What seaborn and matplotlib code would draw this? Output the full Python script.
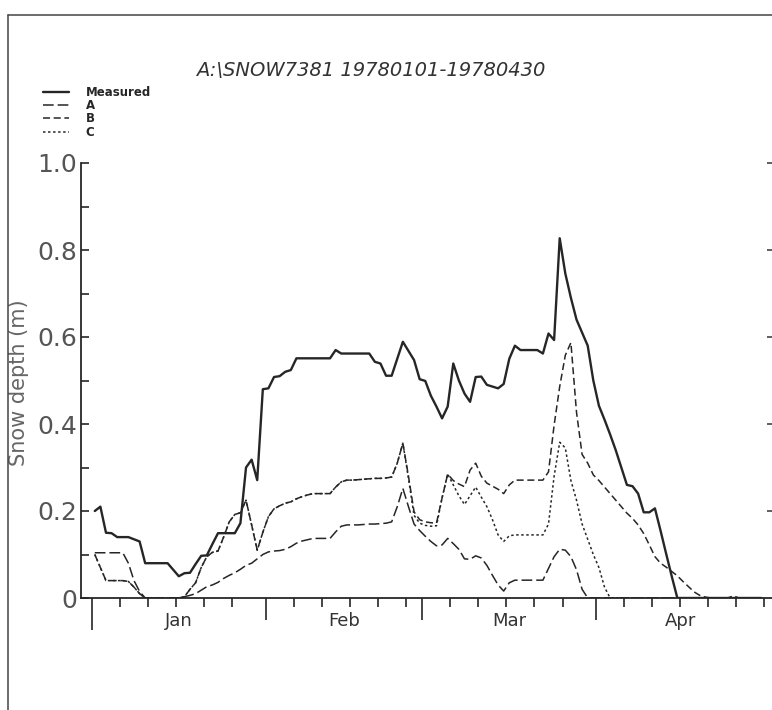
import numpy as np
import pandas as pd
import matplotlib
matplotlib.use("Agg")
import matplotlib.pyplot as plt
import matplotlib.dates as mdates
from matplotlib.lines import Line2D
import seaborn as sns

# ---- data -------------------------------------------------------------
title_text = "A:\\SNOW7381 19780101-19780430"
ylabel_text = "Snow depth (m)"
series_names = ["Measured", "A", "B", "C"]
month_labels = ["Jan", "Feb", "Mar", "Apr"]
y_tick_values = [0, 0.2, 0.4, 0.6, 0.8, 1.0]
y_tick_labels = ["0", "0.2", "0.4", "0.6", "0.8", "1.0"]

# daily snow depth (m), 1 Jan - 30 Apr 1978
measured = [
    0.20, 0.21, 0.15, 0.149, 0.14, 0.14, 0.14, 0.135, 0.13, 0.08,
    0.08, 0.08, 0.08, 0.08, 0.065, 0.05, 0.057, 0.058, 0.078, 0.097,
    0.098, 0.124, 0.149, 0.149, 0.149, 0.149, 0.172, 0.30, 0.318, 0.271,
    0.48, 0.482, 0.508, 0.51, 0.52, 0.524, 0.551, 0.551, 0.551, 0.551,
    0.551, 0.551, 0.551, 0.57, 0.562, 0.562, 0.562, 0.562, 0.562, 0.562,
    0.543, 0.539, 0.511, 0.511, 0.55, 0.589, 0.568, 0.547, 0.503, 0.499,
    0.465, 0.44, 0.413, 0.44, 0.539, 0.50, 0.47, 0.451, 0.508, 0.509,
    0.49, 0.486, 0.482, 0.492, 0.55, 0.58, 0.57, 0.57, 0.57, 0.57,
    0.562, 0.608, 0.593, 0.827, 0.746, 0.69, 0.64, 0.61, 0.58, 0.50,
    0.442, 0.41, 0.376, 0.34, 0.30, 0.26, 0.257, 0.24, 0.197, 0.197,
    0.206, 0.155, 0.102, 0.05, 0.0, 0.0, 0.0, 0.0, 0.0, 0.0,
    0.0, 0.0, 0.0, 0.0, 0.0, 0.0, 0.0, 0.0, 0.0, 0.0,
]
model_a = [
    0.104, 0.104, 0.104, 0.104, 0.104, 0.104, 0.08, 0.04, 0.015, 0.0,
    0.0, 0.0, 0.0, 0.0, 0.0, 0.0, 0.003, 0.006, 0.01, 0.018,
    0.026, 0.03, 0.036, 0.045, 0.052, 0.058, 0.066, 0.075, 0.08, 0.09,
    0.10, 0.106, 0.108, 0.109, 0.112, 0.118, 0.126, 0.131, 0.134, 0.137,
    0.137, 0.137, 0.137, 0.152, 0.165, 0.168, 0.168, 0.168, 0.169, 0.17,
    0.17, 0.171, 0.172, 0.175, 0.21, 0.252, 0.21, 0.17, 0.155, 0.142,
    0.13, 0.12, 0.122, 0.137, 0.125, 0.112, 0.09, 0.089, 0.097, 0.092,
    0.075, 0.052, 0.03, 0.016, 0.035, 0.041, 0.041, 0.041, 0.041, 0.041,
    0.041, 0.068, 0.095, 0.112, 0.11, 0.095, 0.065, 0.02, 0.0, 0.0,
    0.0, 0.0, 0.0, 0.0, 0.0, 0.0, 0.0, 0.0, 0.0, 0.0,
    0.0, 0.0, 0.0, 0.0, 0.0, 0.0, 0.0, 0.0, 0.0, 0.0,
    0.0, 0.0, 0.0, 0.0, 0.0, 0.0, 0.0, 0.0, 0.0, 0.0,
]
model_b = [
    0.10, 0.07, 0.04, 0.04, 0.04, 0.04, 0.038, 0.025, 0.01, 0.0,
    0.0, 0.0, 0.0, 0.0, 0.0, 0.0, 0.003, 0.02, 0.035, 0.07,
    0.095, 0.105, 0.108, 0.14, 0.175, 0.192, 0.196, 0.225, 0.168, 0.11,
    0.151, 0.187, 0.205, 0.212, 0.218, 0.221, 0.228, 0.233, 0.237, 0.24,
    0.24, 0.24, 0.24, 0.255, 0.267, 0.271, 0.271, 0.272, 0.273, 0.274,
    0.275, 0.275, 0.276, 0.278, 0.31, 0.356, 0.28, 0.198, 0.18, 0.175,
    0.173, 0.172, 0.23, 0.285, 0.27, 0.262, 0.256, 0.294, 0.31, 0.28,
    0.264, 0.257, 0.25, 0.24, 0.26, 0.271, 0.271, 0.271, 0.271, 0.271,
    0.271, 0.29, 0.397, 0.486, 0.558, 0.587, 0.427, 0.33, 0.31, 0.283,
    0.27, 0.255, 0.24, 0.225, 0.21, 0.195, 0.183, 0.168, 0.148, 0.122,
    0.095, 0.08, 0.071, 0.061, 0.051, 0.038, 0.026, 0.014, 0.006, 0.002,
    0.0, 0.0, 0.0, 0.0, 0.005, 0.0, 0.0, 0.0, 0.0, 0.0,
]
model_c = [
    0.10, 0.07, 0.04, 0.04, 0.04, 0.04, 0.038, 0.025, 0.01, 0.0,
    0.0, 0.0, 0.0, 0.0, 0.0, 0.0, 0.003, 0.02, 0.035, 0.07,
    0.095, 0.105, 0.108, 0.14, 0.175, 0.192, 0.196, 0.225, 0.168, 0.11,
    0.151, 0.187, 0.205, 0.212, 0.218, 0.221, 0.228, 0.233, 0.237, 0.24,
    0.24, 0.24, 0.24, 0.255, 0.267, 0.271, 0.271, 0.272, 0.273, 0.274,
    0.275, 0.275, 0.276, 0.278, 0.31, 0.356, 0.275, 0.19, 0.172, 0.167,
    0.165, 0.166, 0.23, 0.285, 0.26, 0.235, 0.215, 0.235, 0.255, 0.232,
    0.21, 0.18, 0.145, 0.13, 0.143, 0.145, 0.145, 0.145, 0.145, 0.145,
    0.145, 0.17, 0.28, 0.358, 0.345, 0.27, 0.225, 0.17, 0.135, 0.10,
    0.07, 0.025, 0.0, 0.0, 0.0, 0.0, 0.0, 0.0, 0.0, 0.0,
    0.0, 0.0, 0.0, 0.0, 0.0, 0.0, 0.0, 0.0, 0.0, 0.0,
    0.0, 0.0, 0.0, 0.0, 0.0, 0.0, 0.0, 0.0, 0.0, 0.0,
]

dates = pd.date_range("1978-01-01 12:00", periods=len(measured), freq="D")
frame = pd.DataFrame({"date": dates, "Measured": measured, "A": model_a,
                      "B": model_b, "C": model_c})
long = frame.melt(id_vars="date", var_name="series", value_name="depth")

# ---- styling ----------------------------------------------------------
sns.set_style("ticks")
plt.rcParams["font.family"] = ["DejaVu Sans"]

ink = "#262626"
line_styles = {
    "Measured": dict(linestyle="-", lw=1.7),
    "A": dict(linestyle=(0, (7.0, 2.6)), lw=1.1),
    "B": dict(linestyle=(0, (4.6, 2.4)), lw=1.1),
    "C": dict(linestyle=(0, (1.6, 1.7)), lw=1.1),
}

fig = plt.figure(figsize=(7.72, 7.10), dpi=100)
ax = fig.add_axes([81 / 772, 1 - 598 / 710, 691 / 772, 435 / 710])

for name in series_names:
    sub = long[long["series"] == name]
    sns.lineplot(data=sub, x="date", y="depth", ax=ax, color=ink,
                 label=name, **line_styles[name])

# ---- axes -------------------------------------------------------------
t0 = pd.Timestamp("1978-01-01")
ax.set_xlim(t0 - pd.Timedelta(days=1.96), t0 + pd.Timedelta(days=121.4))
ax.set_ylim(0, 1.0)

for side in ("top", "right"):
    ax.spines[side].set_visible(False)
for side in ("left", "bottom"):
    ax.spines[side].set_color(ink)
    ax.spines[side].set_linewidth(1.3)

month_starts = pd.to_datetime(["1978-01-01", "1978-02-01", "1978-03-01",
                               "1978-04-01", "1978-05-01"])
five_day = []
for m in month_starts[:-1]:
    five_day += [m + pd.Timedelta(days=k) for k in (5, 10, 15, 20, 25)]

ax.set_xticks(list(month_starts[:-1]))
ax.set_xticks(five_day + [month_starts[-1]], minor=True)
ax.set_xticklabels([])
ax.tick_params(axis="x", which="major", direction="out", length=16,
               width=1.2, color=ink)
ax.tick_params(axis="x", which="minor", direction="out", length=6.5,
               width=1.2, color=ink)
ax.xaxis.get_major_ticks()[0].tick1line.set_markersize(23)

mid_months = [month_starts[i] + (month_starts[i + 1] - month_starts[i]) / 2
              for i in range(4)]
for d, lab in zip(mid_months, month_labels):
    ax.text(mdates.date2num(d), -0.0529, lab, transform=ax.get_xaxis_transform(),
            ha="center", va="center", fontsize=13, color="#333333")

ax.set_yticks(y_tick_values)
ax.set_yticklabels(y_tick_labels)
ax.set_yticks([0.1, 0.3, 0.5, 0.7, 0.9], minor=True)
ax.tick_params(axis="y", which="both", direction="in", length=6, width=1.2,
               color=ink, labelsize=18, labelcolor="#555555", pad=3)

right = ax.secondary_yaxis("right")
right.set_yticks([0.2, 0.4, 0.6, 0.8, 1.0])
right.set_yticklabels([])
right.tick_params(direction="in", length=3.5, width=1.2, color="#444444")
right.spines["right"].set_visible(False)

ax.set_xlabel("")
ax.set_ylabel(ylabel_text, fontsize=15, color="#666666")
ax.yaxis.set_label_coords((29 - 81) / 691, (598 - 383) / 435)

fig.text(371 / 772, 1 - 70 / 710, title_text, ha="center", va="center",
         fontsize=14, style="italic", color="#333333")

ax.legend(loc="upper left", bbox_to_anchor=(43 / 772, 1 - 86 / 710),
          bbox_transform=fig.transFigure, frameon=False, borderpad=0,
          borderaxespad=0, handlelength=2.16, handletextpad=1.44,
          labelspacing=0.02, prop=dict(weight="bold", size=8.5))

# page frame
fig.add_artist(Line2D([8 / 772, 1], [1 - 15 / 710, 1 - 15 / 710],
                      transform=fig.transFigure, color="#444444", lw=1.1))
fig.add_artist(Line2D([8 / 772, 8 / 772], [0, 1 - 15 / 710],
                      transform=fig.transFigure, color="#444444", lw=1.1))

fig.savefig("out.png", dpi=100)
